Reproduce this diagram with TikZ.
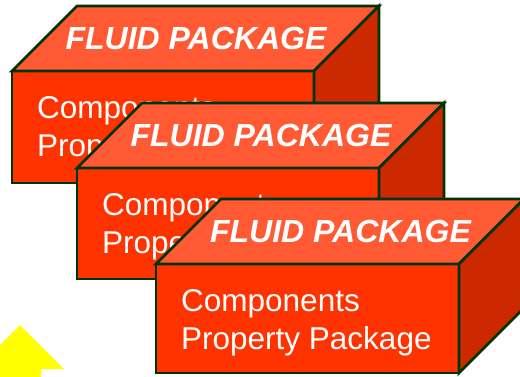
\documentclass[tikz,border=0pt]{standalone}
\usepackage{fontspec}
\setmainfont{Liberation Sans}

\definecolor{frontred}{HTML}{FF3300}
\definecolor{topred}{HTML}{FF5A33}
\definecolor{sidered}{HTML}{CC2900}
\definecolor{edgegreen}{HTML}{003300}
\definecolor{arrowyellow}{HTML}{FFFF00}

\tikzset{
  face/.style={draw=edgegreen, line width=2.8pt, line join=miter},
  pkgtitle/.style={inner sep=0pt, anchor=base, text=white,
    font=\fontsize{32}{38}\selectfont\bfseries\itshape},
  pkgtext/.style={inner sep=0pt, anchor=base west, text=white,
    font=\fontsize{31.5}{38}\selectfont},
}

% one package cuboid: name, left, top, width, height (front face), depth 65
\newcommand\pkgbox[5]{%
  \pgfmathsetmacro\pkL{#2}%
  \pgfmathsetmacro\pkT{#3}%
  \pgfmathsetmacro\pkR{#2+#4}%
  \pgfmathsetmacro\pkB{#3+#5}%
  \pgfmathsetmacro\pkBL{#2+65}%
  \pgfmathsetmacro\pkBR{#2+#4+65}%
  \pgfmathsetmacro\pkBT{#3-65}%
  \pgfmathsetmacro\pkBB{#3+#5-65}%
  \pgfmathsetmacro\pkCX{#2+#4/2+33}%
  \filldraw[face, fill=frontred] (\pkL,\pkT) rectangle (\pkR,\pkB);
  \filldraw[face, fill=topred] (\pkL,\pkT) -- (\pkBL,\pkBT) -- (\pkBR,\pkBT) -- (\pkR,\pkT) -- cycle;
  \filldraw[face, fill=sidered] (\pkR,\pkT) -- (\pkBR,\pkBT) -- (\pkBR,\pkBB) -- (\pkR,\pkB) -- cycle;
  \node[pkgtitle] (#1-title) at (\pkCX,\pkT-22) {FLUID PACKAGE};
  \node[pkgtext] (#1-comp) at (\pkL+25,\pkT+47) {Components};
  \node[pkgtext] (#1-prop) at (\pkL+25,\pkT+85) {Property Package};
}

\begin{document}
\begin{tikzpicture}[x=1pt, y=-1pt]
  \useasboundingbox (0,0) rectangle (520,376);
  \clip (0,0) rectangle (520,376);

  \pkgbox{pkgA}{12}{71}{302}{112}
  \pkgbox{pkgB}{77}{168}{302}{111}
  \pkgbox{pkgC}{156}{264}{303}{109}

  % yellow up arrow in the corner
  \fill[arrowyellow] (20,325) -- (64,369) -- (41,369) -- (41,380)
    -- (-1,380) -- (-1,369) -- (-24,369) -- cycle;
\end{tikzpicture}
\end{document}
